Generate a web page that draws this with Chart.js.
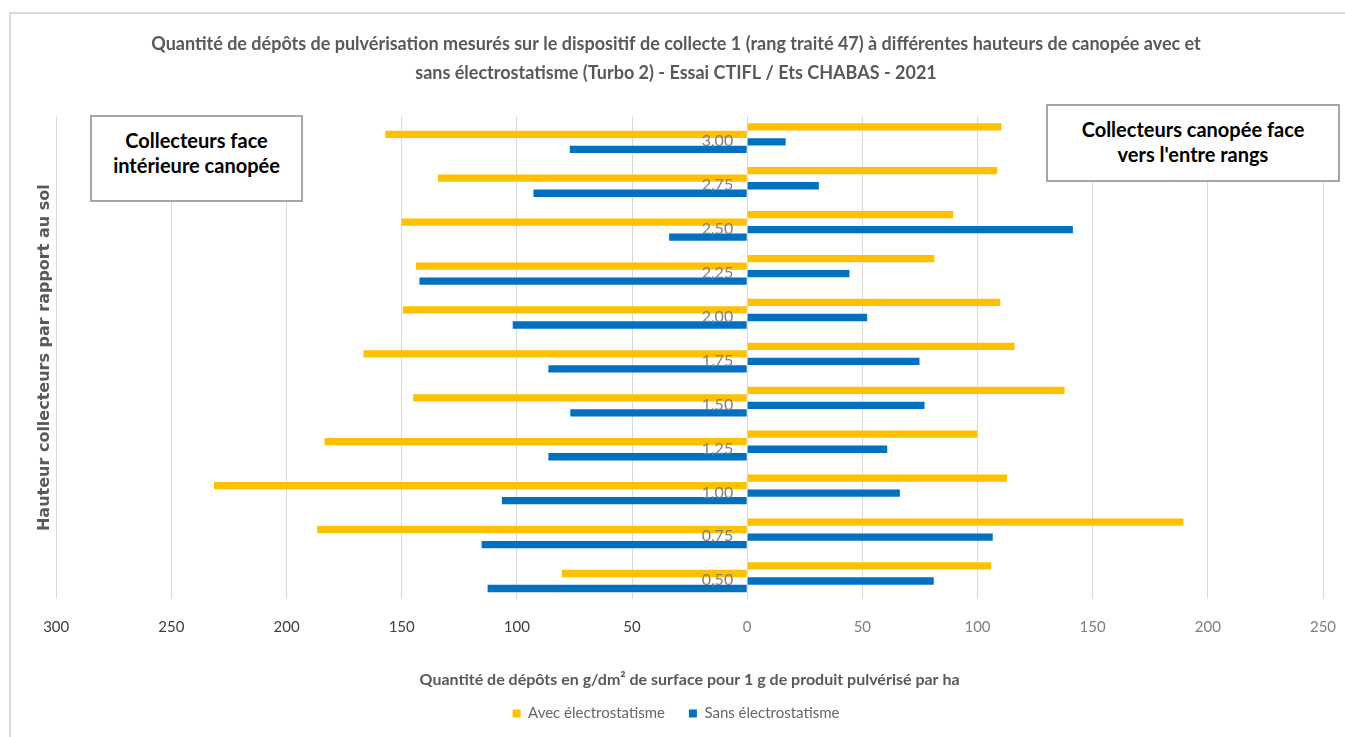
<!DOCTYPE html>
<html lang="fr">
<head>
<meta charset="UTF-8">
<title>Dépôts de pulvérisation - Turbo 2</title>
<script src="https://cdn.jsdelivr.net/npm/chart.js"></script>
<style>
  body { margin: 0; background: #fff; }
  #wrap { position: relative; width: 1345px; height: 737px; overflow: hidden; }
  #frame { position: absolute; left: 9px; top: 12px; right: -5px; bottom: -5px;
           border-left: 2px solid #d9d9d9; border-top: 2px solid #d9d9d9; }
  canvas { position: absolute; left: 0; top: 0; }
  .note { position: absolute; box-sizing: border-box; background: #fff; border: 2px solid #a6a6a6;
          font: bold 20px Lato, sans-serif; line-height: 25px; text-align: center; color: #000;
          padding-top: 11px; }
</style>
</head>
<body>
<div id="wrap">
  <div id="frame"></div>
  <canvas id="chart" width="1345" height="737"></canvas>
  <div class="note" style="left:90px; top:115px; width:213px; height:87px;">Collecteurs face<br>intérieure canopée</div>
  <div class="note" style="left:1046px; top:104px; width:294px; height:78px;">Collecteurs canopée face<br>vers l'entre rangs</div>
</div>

<script>
// hauteurs des collecteurs (m), du bas vers le haut
const heights = ['0,50', '0,75', '1,00', '1,25', '1,50', '1,75', '2,00', '2,25', '2,50', '2,75', '3,00'];

// face intérieure canopée (tracé vers la gauche)
const avecInterieur = [80.4, 186.7, 231.5, 183.5, 145.0, 166.6, 149.5, 143.8, 150.0, 134.3, 157.1];
const sansInterieur = [112.7, 115.3, 106.5, 86.3, 76.8, 86.3, 101.8, 142.3, 33.9, 92.8, 77.0];

// face vers l'entre rangs (tracé vers la droite)
const avecEntreRangs = [105.9, 189.4, 112.8, 99.8, 137.8, 116.1, 109.9, 81.3, 89.4, 108.5, 110.4];
const sansEntreRangs = [81.0, 106.6, 66.3, 60.8, 77.0, 74.8, 52.1, 44.4, 141.4, 31.1, 16.7];

const xTicks = [-300, -250, -200, -150, -100, -50, 0, 50, 100, 150, 200, 250];

const YELLOW = '#FFC000';
const BLUE = '#0070C0';
const NARROW = "'Liberation Sans Narrow', Lato, sans-serif";

// libellés des hauteurs posés contre l'axe zéro
const heightLabels = {
    id: 'heightLabels',
    afterDatasetsDraw(chart) {
        const { ctx, scales: { x, y } } = chart;
        const x0 = x.getPixelForValue(0);
        ctx.save();
        ctx.font = '16px ' + NARROW;
        ctx.fillStyle = '#7f7f7f';
        ctx.textAlign = 'right';
        ctx.textBaseline = 'middle';
        heights.forEach((h, i) => ctx.fillText(h, x0 - 14, y.getPixelForValue(i) + 3));
        ctx.restore();
    }
};

new Chart(document.getElementById('chart'), {
    type: 'bar',
    data: {
        labels: heights,
        datasets: [
            { label: 'Avec électrostatisme', data: avecEntreRangs, backgroundColor: YELLOW },
            { label: 'Avec électrostatisme', data: avecInterieur.map(v => -v), backgroundColor: YELLOW },
            { label: 'Sans électrostatisme', data: sansEntreRangs, backgroundColor: BLUE },
            { label: 'Sans électrostatisme', data: sansInterieur.map(v => -v), backgroundColor: BLUE }
        ]
    },
    options: {
        indexAxis: 'y',
        responsive: false,
        animation: false,
        layout: { padding: { left: 29, right: 22, top: 20, bottom: 15 } },
        datasets: { bar: { categoryPercentage: 0.685, barPercentage: 0.97 } },
        scales: {
            x: {
                min: -300,
                max: 250,
                afterBuildTicks: axis => { axis.ticks = xTicks.map(v => ({ value: v })); },
                // les marges fixes du layout suffisent pour les libellés extrêmes
                afterFit: axis => { axis.paddingLeft = 0; axis.paddingRight = 0; },
                grid: { color: '#d9d9d9', drawTicks: false },
                border: { display: false },
                ticks: {
                    padding: 19,
                    font: { family: NARROW, size: 15 },
                    color: ctx => ctx.tick && ctx.tick.value < 0 ? '#404040' : '#7f7f7f',
                    callback: v => Math.abs(v)
                },
                title: {
                    display: true,
                    text: 'Quantité de dépôts en g/dm² de surface pour 1 g de produit pulvérisé par ha',
                    color: '#595959',
                    font: { family: NARROW, size: 16, weight: 'bold' },
                    padding: { top: 15.2, bottom: -7.6 }
                }
            },
            y: {
                reverse: true,
                grid: { display: false, drawTicks: false },
                border: { display: false },
                ticks: { display: false },
                title: {
                    display: true,
                    text: 'Hauteur collecteurs par rapport au sol',
                    color: '#595959',
                    font: { family: 'DejaVu Sans', size: 16, weight: 'bold' },
                    padding: { top: 6, bottom: 2 }
                }
            }
        },
        plugins: {
            title: {
                display: true,
                text: [
                    'Quantité de dépôts de pulvérisation mesurés sur le dispositif de collecte 1 (rang traité 47) à différentes hauteurs de canopée avec et',
                    'sans électrostatisme (Turbo 2) - Essai CTIFL / Ets CHABAS - 2021'
                ],
                color: '#595959',
                font: { family: NARROW, size: 18, weight: 'bold', lineHeight: 1.6 },
                padding: { top: 10, bottom: 28.5 }
            },
            legend: {
                position: 'bottom',
                maxHeight: 40,
                labels: {
                    boxWidth: 8,
                    boxHeight: 8,
                    padding: 24,
                    color: '#666',
                    font: { family: NARROW, size: 15 },
                    filter: item => item.datasetIndex % 2 === 0
                }
            },
            tooltip: { enabled: false }
        }
    },
    plugins: [heightLabels]
});
</script>
</body>
</html>
